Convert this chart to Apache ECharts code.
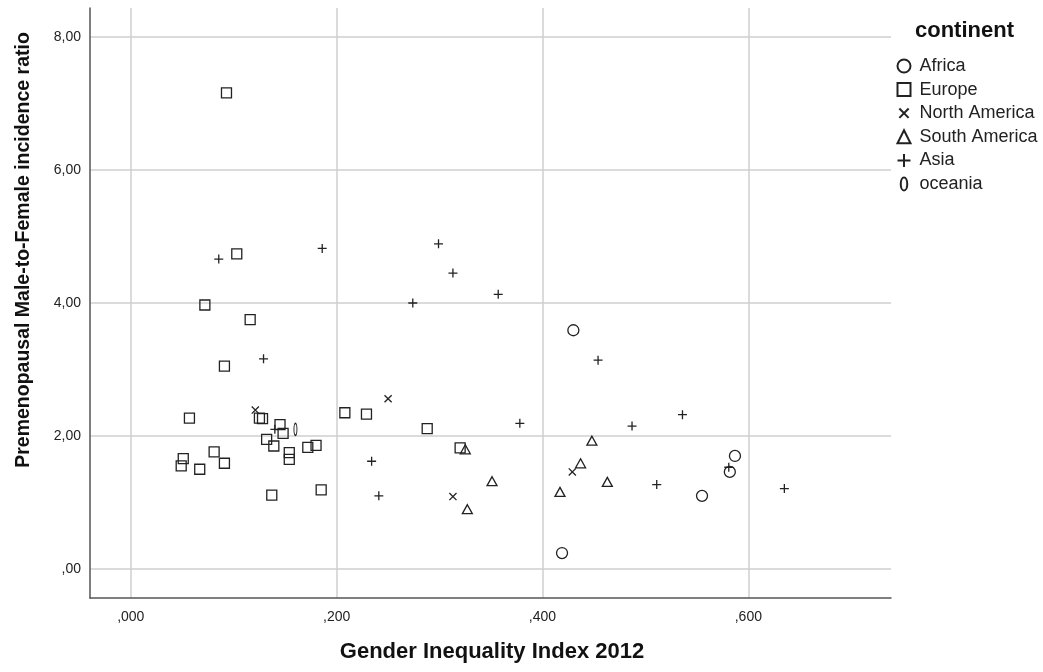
<!DOCTYPE html>
<html>
<head>
<meta charset="utf-8">
<script src="https://cdn.jsdelivr.net/npm/echarts@6/dist/echarts.min.js"></script>
<style>
  html, body { margin: 0; padding: 0; background: #fff; }
  #main { width: 1043px; height: 672px; }
</style>
</head>
<body>
<div id="main"></div>
<script>
// [Gender Inequality Index 2012, Premenopausal M:F incidence ratio]
const africa = [[0.430, 3.59], [0.419, 0.24], [0.555, 1.10], [0.587, 1.70], [0.582, 1.46]];
const europe = [
  [0.093, 7.16], [0.103, 4.74], [0.072, 3.97], [0.116, 3.75], [0.091, 3.05],
  [0.057, 2.27], [0.208, 2.35], [0.229, 2.33], [0.288, 2.11], [0.320, 1.82],
  [0.125, 2.27], [0.128, 2.26], [0.145, 2.17], [0.148, 2.04], [0.132, 1.95],
  [0.139, 1.85], [0.154, 1.75], [0.154, 1.65], [0.172, 1.83], [0.180, 1.86],
  [0.051, 1.66], [0.049, 1.55], [0.081, 1.76], [0.091, 1.59], [0.067, 1.50],
  [0.137, 1.11], [0.185, 1.19]
];
const northAmerica = [[0.121, 2.39], [0.250, 2.56], [0.313, 1.09], [0.429, 1.46]];
const southAmerica = [[0.325, 1.80], [0.351, 1.32], [0.327, 0.90], [0.417, 1.16], [0.437, 1.59], [0.448, 1.93], [0.463, 1.31]];
const asia = [
  [0.0855, 4.66], [0.186, 4.82], [0.299, 4.89], [0.313, 4.45], [0.274, 4.00],
  [0.357, 4.13], [0.129, 3.16], [0.454, 3.14], [0.140, 2.10], [0.378, 2.19],
  [0.487, 2.15], [0.536, 2.32], [0.234, 1.62], [0.241, 1.10], [0.511, 1.27],
  [0.581, 1.53], [0.635, 1.21]
];
const oceania = [[0.160, 2.10]];

const xTicks = [0, 0.2, 0.4, 0.6];
const xTickLabels = [',000', ',200', ',400', ',600'];
const yTicks = [0, 2, 4, 6, 8];
const yTickLabels = [',00', '2,00', '4,00', '6,00', '8,00'];

const ink = '#222';
const font = 'Arial, "Liberation Sans", sans-serif';

// marker shapes (the stray moves pad the box so the legend icon comes out smaller)
const crossPath = 'path://M-2,-2M0,0L10,10M10,0L0,10M12,12';
const plusPath = 'path://M5,0L5,10M0,5L10,5';
const zeroPath = 'path://M3,0C4.7,0 6,2.7 6,6C6,9.3 4.7,12 3,12C1.3,12 0,9.3 0,6C0,2.7 1.3,0 3,0Z';

function tickLabel(ticks, labels) {
  return function (v) {
    for (let i = 0; i < ticks.length; i++) {
      if (Math.abs(ticks[i] - v) < 1e-9) return labels[i];
    }
    return '';
  };
}

function group(name, data, symbol, size) {
  return {
    name: name,
    type: 'scatter',
    data: data,
    symbol: symbol,
    symbolSize: size,
    symbolKeepAspect: true,
    itemStyle: { color: 'none', borderColor: ink, borderWidth: 1.3, opacity: 1 },
    emphasis: { disabled: true }
  };
}

const chart = echarts.init(document.getElementById('main'));
chart.setOption({
  animation: false,
  backgroundColor: '#fff',
  grid: { left: 90, top: 8, width: 801, height: 590 },
  xAxis: {
    type: 'value',
    min: -0.0396,
    max: 0.7386,
    axisLine: { onZero: false, lineStyle: { color: '#555', width: 1.5 } },
    axisTick: { show: false, customValues: xTicks },
    axisLabel: {
      customValues: xTicks,
      formatter: tickLabel(xTicks, xTickLabels),
      color: '#222', fontFamily: font, fontSize: 14, margin: 12
    },
    splitLine: { show: true, lineStyle: { color: '#cfcfcf', width: 1.5 } }
  },
  yAxis: {
    type: 'value',
    min: -0.436,
    max: 8.436,
    axisLine: { show: true, onZero: false, lineStyle: { color: '#555', width: 1.5 } },
    axisTick: { show: false, customValues: yTicks },
    axisLabel: {
      customValues: yTicks,
      formatter: tickLabel(yTicks, yTickLabels),
      color: '#222', fontFamily: font, fontSize: 14, margin: 9
    },
    splitLine: { show: true, lineStyle: { color: '#cfcfcf', width: 1.5 } }
  },
  legend: {
    orient: 'vertical',
    left: 895,
    top: 56,
    padding: 0,
    itemWidth: 13,
    itemHeight: 13,
    itemGap: 3.6,
    textStyle: { color: '#222', fontFamily: font, fontSize: 18, lineHeight: 20, padding: [0, 0, 0, 4] },
    data: ['Africa', 'Europe', 'North America', 'South America', 'Asia', 'oceania']
  },
  graphic: [
    {
      type: 'text', x: 915, y: 31,
      style: { text: 'continent', fontFamily: font, fontWeight: 'bold', fontSize: 22, fill: '#111',
               align: 'left', verticalAlign: 'middle' }
    },
    {
      type: 'text', x: 492, y: 652,
      style: { text: 'Gender Inequality Index 2012', fontFamily: font, fontWeight: 'bold', fontSize: 22,
               fill: '#111', align: 'center', verticalAlign: 'middle' }
    },
    {
      type: 'text', x: 24, y: 250, rotation: Math.PI / 2,
      style: { text: 'Premenopausal Male-to-Female incidence ratio', fontFamily: font, fontWeight: 'bold', fontSize: 19.5,
               fill: '#111', align: 'center', verticalAlign: 'middle' }
    }
  ],
  series: [
    group('Africa', africa, 'circle', 11),
    group('Europe', europe, 'rect', 10),
    group('North America', northAmerica, crossPath, 10),
    group('South America', southAmerica, 'triangle', [10, 9]),
    group('Asia', asia, plusPath, 9),
    group('oceania', oceania, zeroPath, [6, 12])
  ]
});
</script>
</body>
</html>
